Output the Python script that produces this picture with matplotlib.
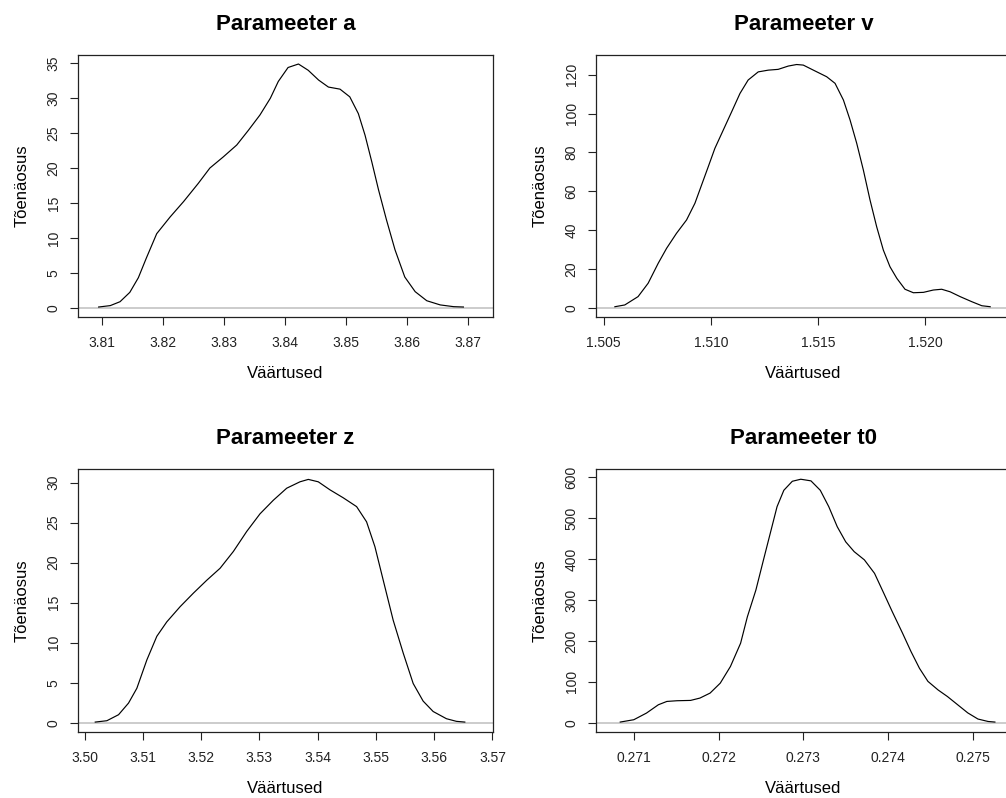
import matplotlib
matplotlib.use('Agg')
import matplotlib.pyplot as plt
from matplotlib.ticker import FormatStrFormatter

plt.rcParams['font.family'] = ['Liberation Sans', 'DejaVu Sans']

# posterior density estimates, one curve per parameter
a_x = [3.8095, 3.8114, 3.8130, 3.8146, 3.8160, 3.8173, 3.8190, 3.8201, 3.8212, 3.8234,
       3.8258, 3.8277, 3.8299, 3.8321, 3.8340, 3.8359, 3.8376, 3.8389, 3.8405, 3.8422,
       3.8438, 3.8455, 3.8471, 3.8490, 3.8506, 3.8520, 3.8531, 3.8542, 3.8553, 3.8566,
       3.8580, 3.8596, 3.8613, 3.8632, 3.8654, 3.8676, 3.8692]
a_y = [0.1, 0.3, 0.86, 2.2, 4.3, 7.1, 10.6, 11.8, 13.0, 15.2,
       17.8, 20.0, 21.6, 23.3, 25.4, 27.6, 30.0, 32.4, 34.4, 34.9,
       34.0, 32.6, 31.6, 31.3, 30.2, 27.8, 24.7, 20.9, 16.9, 12.6,
       8.3, 4.4, 2.3, 1.0, 0.4, 0.15, 0.1]

v_x = [1.50553, 1.50599, 1.50661, 1.50708, 1.50755, 1.50794, 1.50840, 1.50887, 1.50926, 1.50957,
       1.50988, 1.51019, 1.51058, 1.51097, 1.51136, 1.51174, 1.51221, 1.51268, 1.51314, 1.51361,
       1.51400, 1.51431, 1.51478, 1.51540, 1.51579, 1.51618, 1.51649, 1.51680, 1.51711, 1.51742,
       1.51773, 1.51804, 1.51835, 1.51867, 1.51905, 1.51944, 1.51991, 1.52037, 1.52076, 1.52115,
       1.52162, 1.52216, 1.52263, 1.52302]
v_y = [0.5, 1.4, 5.7, 12.6, 22.9, 30.6, 38.3, 45.2, 53.8, 63.2,
       72.6, 82.1, 91.5, 100.9, 110.4, 117.3, 121.5, 122.4, 122.8, 124.5,
       125.3, 125.0, 122.4, 119.0, 115.6, 107.0, 96.7, 84.7, 70.9, 55.5,
       41.7, 29.7, 21.1, 15.1, 9.5, 7.7, 7.9, 9.1, 9.5, 8.2,
       5.7, 3.1, 1.0, 0.5]

z_x = [3.50183, 3.50383, 3.50583, 3.50754, 3.50897, 3.51069, 3.51240, 3.51411, 3.51640, 3.51869,
       3.52097, 3.52326, 3.52554, 3.52783, 3.53011, 3.53240, 3.53469, 3.53697, 3.53840, 3.54011,
       3.54211, 3.54440, 3.54669, 3.54840, 3.54983, 3.55126, 3.55297, 3.55469, 3.55640, 3.55811,
       3.55983, 3.56211, 3.56383, 3.56526]
z_y = [0.08, 0.25, 1.0, 2.45, 4.3, 7.85, 10.8, 12.6, 14.5, 16.2,
       17.8, 19.3, 21.4, 23.9, 26.1, 27.8, 29.3, 30.1, 30.4, 30.1,
       29.1, 28.1, 27.0, 25.1, 22.0, 17.8, 12.8, 8.7, 4.9, 2.7,
       1.4, 0.5, 0.17, 0.08]

t0_x = [0.27084, 0.27100, 0.27115, 0.27129, 0.27139, 0.27151, 0.27167, 0.27178, 0.27190, 0.27202,
        0.27214, 0.27226, 0.27234, 0.27244, 0.27253, 0.27261, 0.27269, 0.27277, 0.27287, 0.27297,
        0.27309, 0.27320, 0.27330, 0.27340, 0.27350, 0.27360, 0.27372, 0.27384, 0.27395, 0.27405,
        0.27417, 0.27427, 0.27437, 0.27447, 0.27459, 0.27470, 0.27482, 0.27494, 0.27506, 0.27518,
        0.27526]
t0_y = [1.6, 7.3, 23.6, 43.9, 52.0, 53.7, 54.5, 60.2, 72.4, 96.7,
        137.4, 194.3, 259.0, 324.0, 398.0, 463.0, 528.0, 568.0, 590.0, 595.0,
        591.0, 568.0, 528.0, 479.0, 442.0, 418.0, 398.0, 365.0, 316.0, 271.0,
        219.0, 174.0, 133.0, 101.0, 80.0, 64.0, 44.0, 24.0, 9.0, 3.0,
        1.6]

titles = ['Parameeter a', 'Parameeter v', 'Parameeter z', 'Parameeter t0']
x_ticks = [[3.81, 3.82, 3.83, 3.84, 3.85, 3.86, 3.87],
           [1.505, 1.510, 1.515, 1.520],
           [3.50, 3.51, 3.52, 3.53, 3.54, 3.55, 3.56, 3.57],
           [0.271, 0.272, 0.273, 0.274, 0.275]]
y_ticks = [[0, 5, 10, 15, 20, 25, 30, 35],
           [0, 20, 40, 60, 80, 100, 120],
           [0, 5, 10, 15, 20, 25, 30],
           [0, 100, 200, 300, 400, 500, 600]]

W, H = 1006, 798
fig = plt.figure(figsize=(W / 100, H / 100), dpi=100)

# panel boxes in pixels: left, top, right, bottom
boxes = [(78, 55, 493, 317), (596, 55, 1011, 317),
         (78, 469, 493, 732), (596, 469, 1011, 732)]
fmts = ['%.2f', '%.3f', '%.2f', '%.3f']
xlims = [(3.80612, 3.87404), (1.50465, 1.52399), (3.49887, 3.57010), (0.270554, 0.27545)]
ylims = [(-1.33, 36.19), (-4.8, 130.2), (-1.16, 31.7), (-22.7, 620.0)]

curves = [(a_x, a_y), (v_x, v_y), (z_x, z_y), (t0_x, t0_y)]

for i, (xs, ys) in enumerate(curves):
    l, t, r, b = boxes[i]
    ax = fig.add_axes([l / W, 1 - b / H, (r - l) / W, (b - t) / H])
    ax.axhline(0, color='#bebebe', lw=1.1, zorder=1)
    ax.plot(xs, ys, color='black', lw=0.85, zorder=2)

    ax.set_xlim(*xlims[i])
    ax.set_ylim(*ylims[i])
    ax.set_xticks(x_ticks[i])
    ax.set_yticks(y_ticks[i])
    ax.xaxis.set_major_formatter(FormatStrFormatter(fmts[i]))
    ax.tick_params(axis='both', direction='out', length=5.5, width=0.8, labelsize=10, colors='#222222')
    ax.tick_params(axis='x', pad=8)
    ax.tick_params(axis='y', pad=7)
    for lab in ax.get_yticklabels():
        lab.set_rotation(90)
        lab.set_va('center')
    for s in ax.spines.values():
        s.set_linewidth(0.9)
        s.set_color('#222222')

    ax.set_title(titles[i], fontsize=16, fontweight='bold', pad=18)
    ax.set_xlabel('Väärtused', fontsize=12, labelpad=12)
    ax.set_ylabel('Tõenäosus', fontsize=12, labelpad=12)

fig.savefig('out.png', dpi=100)
